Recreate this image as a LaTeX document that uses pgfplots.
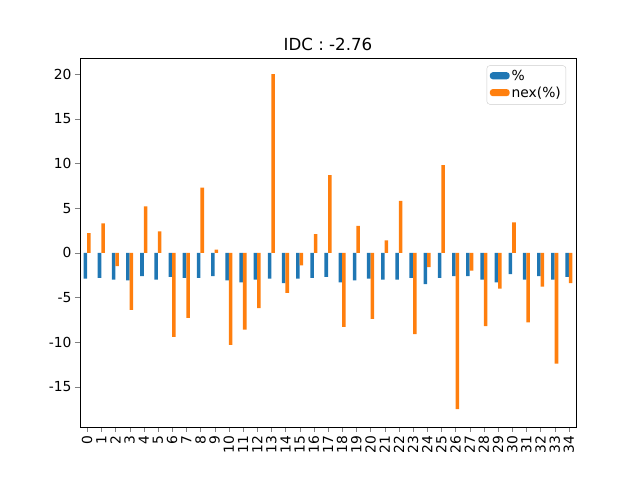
\documentclass[border=0pt]{standalone}
\usepackage{pgfplots}
\pgfplotsset{compat=1.18}
\usepackage{fontspec}
\setmainfont{DejaVu Sans}
\definecolor{mblue}{HTML}{1F77B4}
\definecolor{morange}{HTML}{FF7F0E}
\begin{document}
\begin{tikzpicture}
\useasboundingbox (0,0) rectangle (640bp,480bp);
\begin{axis}[at={(80bp,53bp)}, anchor=south west, scale only axis,
 width=496bp, height=369bp,
 xmin=-0.5, xmax=34.5, ymin=-19.5, ymax=21.8,
 ybar, bar width=0.25,
 xtick={0,...,34}, xticklabel style={rotate=90, anchor=east, font=\fontsize{13.9}{16}\selectfont},
 yticklabel style={font=\fontsize{13.9}{16}\selectfont},
 ytick={-15,-10,...,20},
 /pgf/number format/assume math mode=true,
 tick align=outside, xtick pos=bottom, ytick pos=left,
 major tick length=5bp,
 title={IDC : -2.76}, title style={font=\fontsize{16.7}{19}\selectfont, yshift=-2bp},
 legend style={at={(0.98,0.98)}, anchor=north east, font=\fontsize{13.9}{16}\selectfont,
   cells={anchor=west}, draw=black!20, rounded corners=3bp, inner sep=3bp, row sep=1bp},
 legend image code/.code={\fill[#1] (0cm,-0.1cm) rectangle (0.7cm,0.15cm);},
]
\addplot[fill=mblue, draw=none, bar shift=-0.125] coordinates {
(0,-2.9)(1,-2.8)(2,-3.0)(3,-3.1)(4,-2.6)(5,-3.0)(6,-2.7)(7,-2.8)(8,-2.8)(9,-2.6)
(10,-3.1)(11,-3.3)(12,-3.0)(13,-2.9)(14,-3.4)(15,-2.9)(16,-2.8)(17,-2.7)(18,-3.3)(19,-3.1)
(20,-2.9)(21,-3.0)(22,-3.0)(23,-2.8)(24,-3.5)(25,-2.8)(26,-2.6)(27,-2.6)(28,-3.0)(29,-3.3)
(30,-2.4)(31,-3.0)(32,-2.6)(33,-3.0)(34,-2.7)};
\addlegendentry{\%}
\addplot[fill=morange, draw=none, bar shift=0.125] coordinates {
(0,2.2)(1,3.3)(2,-1.5)(3,-6.4)(4,5.2)(5,2.4)(6,-9.4)(7,-7.3)(8,7.3)(9,0.35)
(10,-10.3)(11,-8.6)(12,-6.2)(13,20.0)(14,-4.5)(15,-1.4)(16,2.1)(17,8.7)(18,-8.3)(19,3.0)
(20,-7.4)(21,1.4)(22,5.8)(23,-9.1)(24,-1.6)(25,9.8)(26,-17.5)(27,-2.0)(28,-8.2)(29,-4.0)
(30,3.4)(31,-7.8)(32,-3.8)(33,-12.4)(34,-3.4)};
\addlegendentry{nex(\%)}
\end{axis}
\end{tikzpicture}
\end{document}
